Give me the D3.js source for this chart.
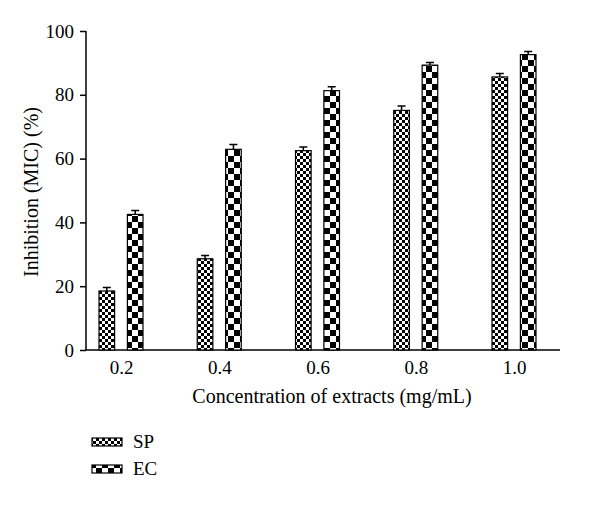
<!DOCTYPE html>
<html><head><meta charset="utf-8">
<script src="https://cdn.jsdelivr.net/npm/d3@7"></script>
<style>body{margin:0;background:#fff;} text{font-family:"Liberation Serif","DejaVu Serif",serif;}</style>
</head><body>
<svg id="chart" width="600" height="507"></svg>
<script>
const categories = ["0.2", "0.4", "0.6", "0.8", "1.0"];
const seriesNames = ["SP", "EC"];
const spValues = [18.5, 28.6, 62.5, 75.1, 85.6];
const spErrors = [1.1, 1.0, 1.1, 1.4, 1.1];
const ecValues = [42.5, 62.9, 81.3, 89.3, 92.6];
const ecErrors = [1.2, 1.5, 1.2, 0.8, 1.0];
const yTicks = [0, 20, 40, 60, 80, 100];

const svg = d3.select("#chart");
const defs = svg.append("defs");
function checker(id, s) {
  const p = defs.append("pattern").attr("id", id).attr("patternUnits", "userSpaceOnUse")
    .attr("width", 2 * s).attr("height", 2 * s);
  p.append("rect").attr("width", 2 * s).attr("height", 2 * s).attr("fill", "#fff");
  p.append("rect").attr("width", s).attr("height", s).attr("fill", "#000");
  p.append("rect").attr("x", s).attr("y", s).attr("width", s).attr("height", s).attr("fill", "#000");
}
checker("pSP", 3);
checker("pEC", 6);
const fills = {SP: "url(#pSP)", EC: "url(#pEC)"};

const y = d3.scaleLinear().domain([0, 100]).range([350, 31]);
const x = d3.scalePoint().domain(categories).range([121, 514]);
const sub = d3.scaleBand().domain(seriesNames).range([-22, 22]).paddingInner(0.45);

// Y axis
const yAxis = svg.append("g").attr("transform", "translate(86,0)")
  .call(d3.axisLeft(y).tickValues(yTicks).tickSize(6).tickPadding(6));
yAxis.select(".domain").attr("stroke", "#000").attr("stroke-width", 1.5).attr("d", "M0,350V31");
yAxis.selectAll(".tick line").attr("stroke", "#000").attr("stroke-width", 1.5);
yAxis.selectAll(".tick text").attr("font-size", 19).attr("fill", "#000")
  .style("font-family", "'Liberation Serif', serif");

// X axis line
svg.append("line").attr("x1", 86).attr("x2", 560).attr("y1", 350).attr("y2", 350)
  .attr("stroke", "#000").attr("stroke-width", 1.5);
const xAxis = svg.append("g").attr("transform", "translate(0,350)")
  .call(d3.axisBottom(x).tickSize(0).tickPadding(11));
xAxis.select(".domain").remove();
xAxis.selectAll(".tick text").attr("font-size", 19).attr("fill", "#000")
  .style("font-family", "'Liberation Serif', serif");

// Bars
const data = [];
categories.forEach((c, i) => {
  data.push({cat: c, s: "SP", v: spValues[i], e: spErrors[i]});
  data.push({cat: c, s: "EC", v: ecValues[i], e: ecErrors[i]});
});
const g = svg.append("g");
const bw = sub.bandwidth();
g.selectAll(".err").data(data).enter().append("path")
  .attr("d", d => {
    const cx = x(d.cat) + sub(d.s) + bw / 2;
    return `M${cx},${y(d.v)}V${y(d.v + d.e)}M${cx - 4},${y(d.v + d.e)}H${cx + 4}`;
  })
  .attr("stroke", "#000").attr("stroke-width", 1.5).attr("fill", "none");
g.selectAll(".bar").data(data).enter().append("rect")
  .attr("x", d => x(d.cat) + sub(d.s))
  .attr("y", d => y(d.v))
  .attr("width", bw)
  .attr("height", d => y(0) - y(d.v))
  .attr("fill", d => fills[d.s])
  .attr("stroke", "#000").attr("stroke-width", 1.2);

// Axis titles
svg.append("text").attr("x", 332).attr("y", 403).attr("text-anchor", "middle")
  .attr("font-size", 20).text("Concentration of extracts (mg/mL)");
svg.append("text").attr("transform", "translate(38,192) rotate(-90)").attr("text-anchor", "middle")
  .attr("font-size", 20).text("Inhibition (MIC) (%)");

// Legend
const leg = svg.append("g");
seriesNames.forEach((s, i) => {
  const ly = 438 + i * 27;
  leg.append("rect").attr("x", 92).attr("y", ly).attr("width", 30).attr("height", 8)
    .attr("fill", fills[s]).attr("stroke", "#000").attr("stroke-width", 1.2);
  leg.append("text").attr("x", 133).attr("y", ly + 10).attr("font-size", 19).text(s);
});
</script>
</body></html>
